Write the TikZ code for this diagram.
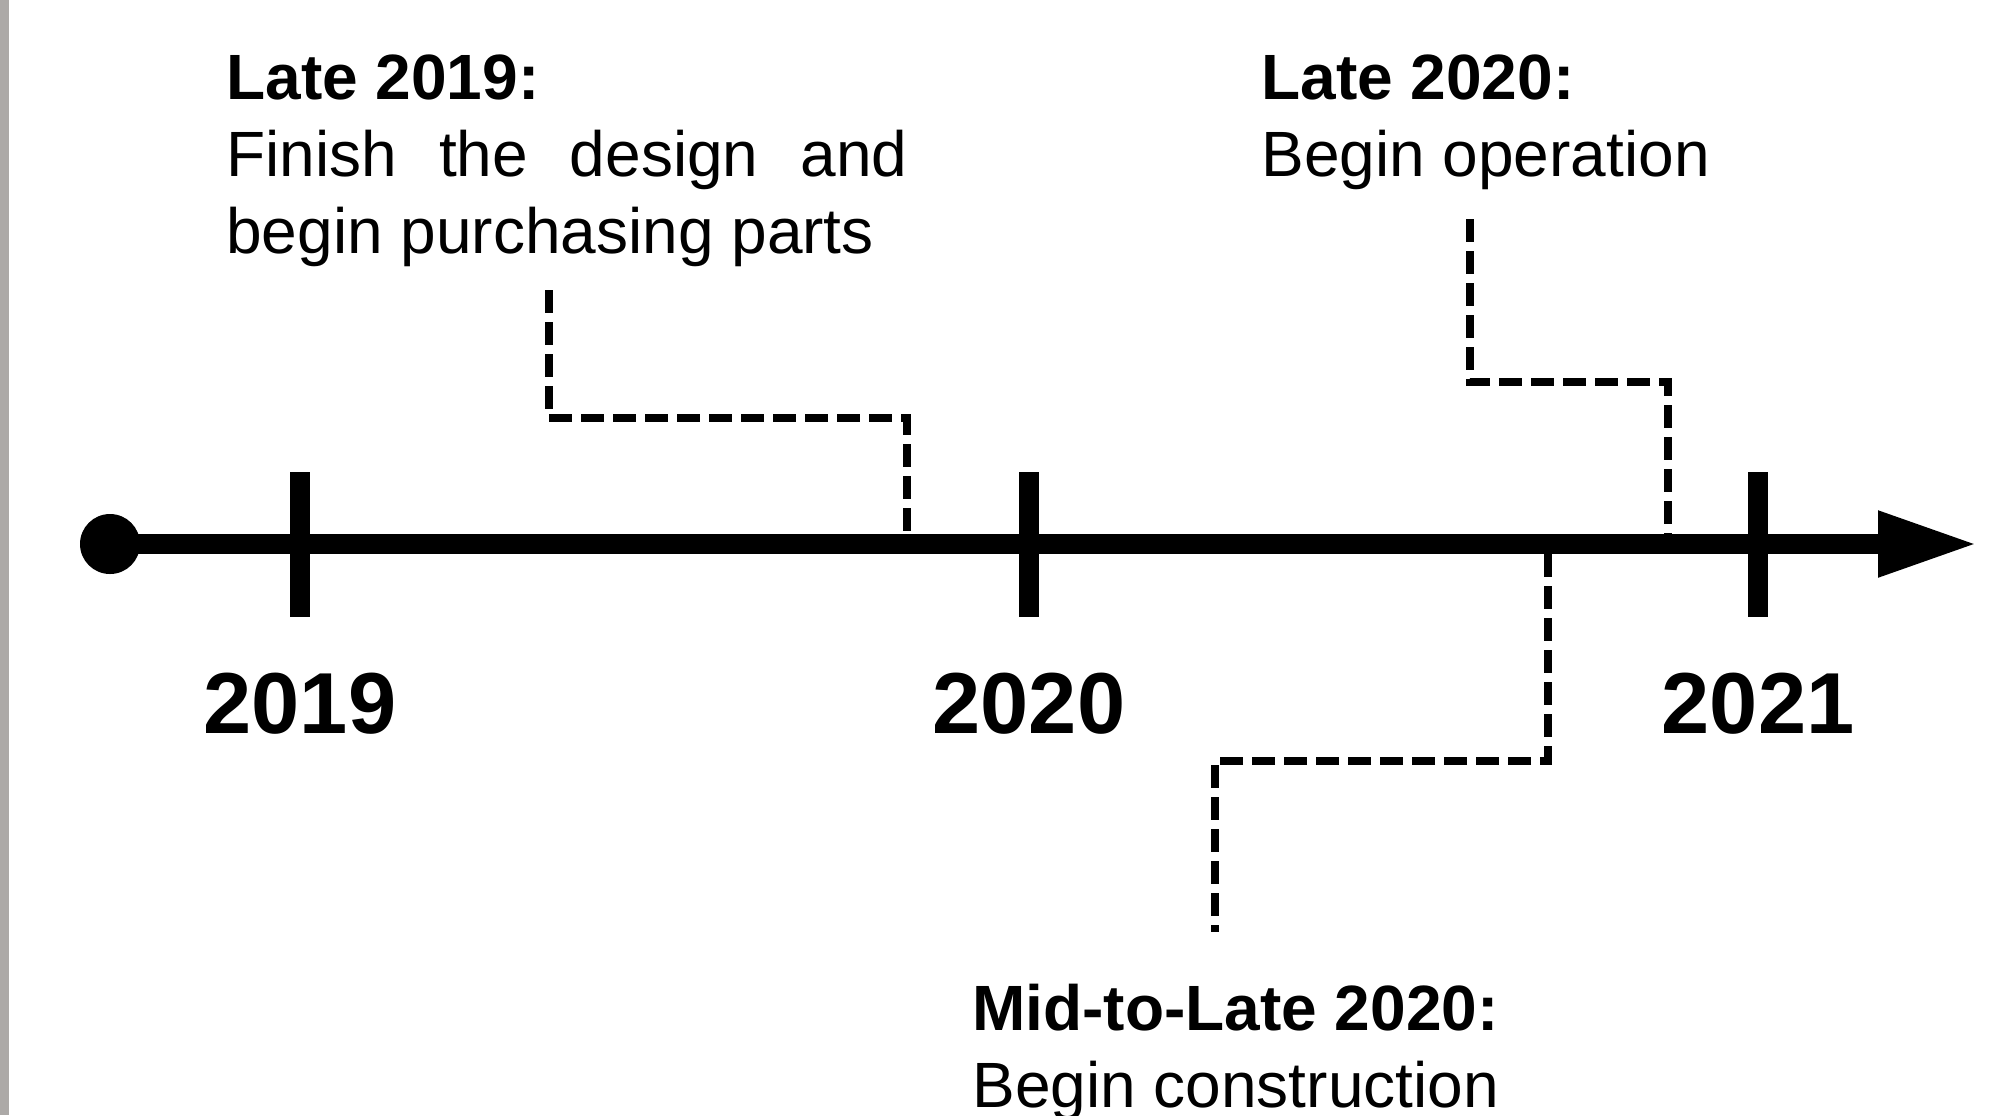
\documentclass[tikz,border=0pt]{standalone}
\usepackage{fontspec}
\setmainfont{Liberation Sans}
\usetikzlibrary{arrows.meta}
\definecolor{bargray}{RGB}{172,169,167}
\begin{document}
\begin{tikzpicture}[x=0.5pt,y=-0.5pt,
  timeline/.style={line width=10pt},
  tickmark/.style={line width=10pt},
  conn/.style={line width=3.75pt, dash pattern=on 11.5pt off 4.5pt},
  ann/.style={anchor=base west, inner sep=0pt, font=\fontsize{32pt}{40pt}\selectfont},
  annb/.style={anchor=base west, inner sep=0pt, font=\fontsize{32pt}{40pt}\selectfont\bfseries},
  year/.style={anchor=base, inner sep=0pt, font=\fontsize{43.3pt}{52pt}\selectfont\bfseries}]
\useasboundingbox (0,0) rectangle (2016,1115);
\fill[white] (0,0) rectangle (2016,1115);
\fill[bargray] (0,0) rectangle (9,1115);

% timeline
\node[circle, fill=black, inner sep=0pt, minimum size=30pt] (dot) at (110,544) {};
\coordinate (tip) at (1978,544);
\draw[timeline, -{Triangle[length=50pt,width=30.5pt]}] (dot.center) -- (tip);

% ticks and years
\foreach \x/\n in {300/2019,1029/2020,1758/2021}{
  \draw[tickmark] (\x,472) -- (\x,617);
  \node[year] (y\n) at (\x,733) {\n};
}

% annotations
\node[annb] (l19a) at (226,99) {Late 2019:};
\node[ann]  (l19b) at (226,176) {\makebox[340.5pt][s]{Finish the design and}};
\node[ann]  (l19c) at (226,253) {begin purchasing parts};

\node[annb] (l20a) at (1261,99) {Late 2020:};
\node[ann]  (l20b) at (1261,176) {Begin operation};

\node[annb] (m20a) at (972,1030) {Mid-to-Late 2020:};
\node[ann]  (m20b) at (972,1107) {Begin construction};

% connectors
\coordinate (c1s) at (549,290);
\coordinate (c1m) at (907,418);
\coordinate (c1e) at (907,534);
\draw[conn] (c1s) |- (c1m) -- (c1e);

\coordinate (c2s) at (1470,219);
\coordinate (c2m) at (1668,382);
\coordinate (c2e) at (1668,534);
\draw[conn] (c2s) |- (c2m) -- (c2e);

\coordinate (c3s) at (1548,554);
\coordinate (c3m) at (1215,761);
\coordinate (c3e) at (1215,932);
\draw[conn] (c3s) |- (c3m) -- (c3e);
\end{tikzpicture}
\end{document}
